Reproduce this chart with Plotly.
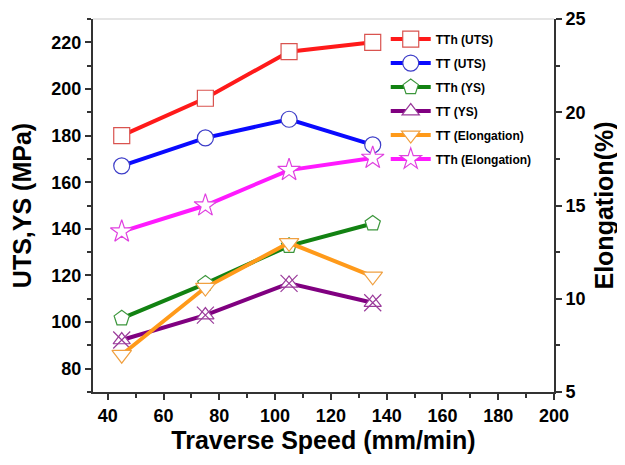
import plotly.graph_objects as go

speed = [45, 75, 105, 135]
tth_uts = [180, 196, 216, 220]
tt_uts = [167, 179, 187, 176]
tth_ys = [101.6, 116.5, 132.7, 142.3]
tt_ys = [92.3, 103, 116.6, 108.3]
tt_elong = [7.0, 10.6, 13.0, 11.2]
tth_elong = [13.6, 15.0, 16.9, 17.55]

FONT = "Arial, Liberation Sans, sans-serif"
fig = go.Figure()

def add(x, y, name, lc, mc, sym, yaxis="y", size=16, showlegend=True):
    fig.add_trace(go.Scatter(
        x=x, y=y, name=name, yaxis=yaxis, mode="lines+markers",
        legendgroup=name,
        line=dict(color=lc, width=4), showlegend=showlegend,
        marker=dict(symbol=sym, size=size, color="white",
                    line=dict(color=mc, width=1.2))))

add(speed, tth_uts, "TTh (UTS)", "#ff1a1a", "#d9534f", "square")
add(speed, tt_uts, "TT (UTS)", "#0a0aff", "#3d3dc8", "circle")
add(speed, tth_ys, "TTh (YS)", "#128212", "#3c963c", "pentagon")
add(speed, tt_ys, "TT (YS)", "#800080", "#9a3a9a", "triangle-up", size=15)
fig.add_trace(go.Scatter(x=speed, y=tt_ys, mode="markers", showlegend=False,
                         legendgroup="TT (YS)",
                         marker=dict(symbol="x-thin", size=17,
                                     line=dict(color="#9a3a9a", width=1.2))))
add(speed, tt_elong, "TT (Elongation)", "#ff9a1a", "#f0a040", "triangle-down", yaxis="y2", size=17)
add(speed, tth_elong, "TTh (Elongation)", "#ff1aff", "#e040e0", "star", yaxis="y2", size=17)

tickfont = dict(family=FONT, size=18, color="black")
common = dict(showline=True, linecolor="#333", linewidth=2, ticks="outside",
              ticklen=6, tickwidth=1.5, tickcolor="#333", showgrid=False,
              zeroline=False, tickfont=tickfont, automargin=False)

# page body has an 8px margin, so the figure is sized/offset to compensate
fig.update_layout(
    width=617, height=457,
    margin=dict(l=85, r=71, t=11, b=73),
    plot_bgcolor="white", paper_bgcolor="white",
    xaxis=dict(range=[34.7, 200], tickmode="linear", tick0=40, dtick=20,
               minor=dict(ticks="outside", ticklen=4, dtick=10, tick0=40, tickcolor="#333"),
               title=dict(text="<b>Traverse Speed (mm/min)</b>",
                          font=dict(family=FONT, size=25, color="black"), standoff=4),
               tickprefix="<b>", ticksuffix="</b>", **common),
    yaxis=dict(range=[70, 230], tickmode="linear", tick0=80, dtick=20,
               minor=dict(ticks="outside", ticklen=4, dtick=10, tick0=80, tickcolor="#333"),
               title=dict(text="<b>UTS,YS (MPa)</b>",
                          font=dict(family=FONT, size=25, color="black"), standoff=13),
               tickprefix="<b>", ticksuffix="</b>", **common),
    yaxis2=dict(range=[5, 25], overlaying="y", side="right", tickmode="linear",
                tick0=5, dtick=5,
                minor=dict(ticks="outside", ticklen=4, dtick=2.5, tick0=5, tickcolor="#333"),
                title=dict(text="<b>Elongation(%)</b>",
                           font=dict(family=FONT, size=25, color="black"), standoff=11),
                tickprefix="<b>", ticksuffix="</b>", **common),
    legend=dict(x=0.635, y=0.985, xanchor="left", yanchor="top",
                bgcolor="rgba(0,0,0,0)", tracegroupgap=5, itemwidth=40,
                font=dict(family=FONT, size=12, color="black")),
    shapes=[dict(type="line", xref="paper", yref="paper", x0=0, x1=1, y0=1, y1=1,
                 line=dict(color="#dddddd", width=1.5))],
)
fig.for_each_trace(lambda t: t.update(name=f"<b>{t.name}</b>") if t.name else None)

fig.write_html("out.html")
